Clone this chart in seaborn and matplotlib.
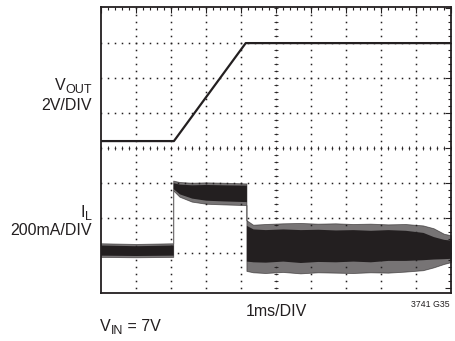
import numpy as np
import pandas as pd
import matplotlib
matplotlib.use('Agg')
import matplotlib.pyplot as plt
import seaborn as sns

# V_OUT trace, in scope divisions (x: 1ms/DIV, y: divisions from bottom)
vout_t = [0.0, 2.09, 4.14, 10.0]
vout_div = [4.21, 4.21, 7.01, 7.01]

# I_L trace, read as envelopes (outer fringe and solid core) of the noisy band
il_t = [0.0, 1.0, 2.07, 2.07, 2.25, 2.6, 3.0, 3.5, 4.16, 4.16, 4.35, 4.7,
        5.2, 5.7, 6.2, 6.7, 7.2, 7.7, 8.2, 8.7, 9.2, 9.5, 9.8, 10.0]
il_hi_outer = [1.29, 1.27, 1.29, 3.08, 3.04, 3.02, 3.03, 3.02, 3.00, 1.95, 1.82, 1.84,
               1.86, 1.87, 1.85, 1.86, 1.84, 1.85, 1.83, 1.84, 1.80, 1.72, 1.56, 1.52]
il_lo_outer = [0.90, 0.89, 0.90, 2.80, 2.62, 2.48, 2.42, 2.40, 2.38, 0.50, 0.46, 0.44,
               0.47, 0.43, 0.46, 0.45, 0.44, 0.46, 0.45, 0.48, 0.52, 0.60, 0.70, 0.75]
il_hi_core = [1.24, 1.22, 1.24, 3.02, 2.98, 2.96, 2.97, 2.96, 2.95, 1.80, 1.70, 1.68,
              1.70, 1.68, 1.69, 1.67, 1.68, 1.66, 1.68, 1.66, 1.60, 1.48, 1.40, 1.38]
il_lo_core = [0.95, 0.94, 0.95, 2.85, 2.70, 2.58, 2.52, 2.50, 2.48, 0.78, 0.76, 0.75,
              0.78, 0.74, 0.77, 0.76, 0.78, 0.76, 0.80, 0.80, 0.82, 0.84, 0.85, 0.86]

TRACE = '#231f20'
W, H = 455, 341

sns.set_style('white')
plt.rcParams['font.family'] = ['Liberation Sans', 'DejaVu Sans']

fig = plt.figure(figsize=(W / 100, H / 100), dpi=100)
ax = fig.add_axes([100.7 / W, 1 - 293.3 / H, (451 - 100.7) / W, (293.3 - 6.7) / H])
ax.set_xlim(0, 10)
ax.set_ylim(-0.14, 8.05)

# scope graticule: dotted lines, small crosses on the centre lines
steps_x = np.arange(0, 10.001, 0.2)
steps_y = np.arange(0, 8.001, 0.2)
for gx in range(1, 10):
    ax.plot(np.full_like(steps_y, gx), steps_y, ls='none', marker='s', ms=1.1,
            mew=0, color=TRACE, zorder=1)
for gy in range(1, 8):
    ax.plot(steps_x, np.full_like(steps_x, gy), ls='none', marker='s', ms=1.1,
            mew=0, color=TRACE, zorder=1)
ax.plot(np.full_like(steps_y, 5), steps_y, ls='none', marker='_', ms=2.6, mew=0.6,
        color=TRACE, zorder=1)
ax.plot(steps_x, np.full_like(steps_x, 4), ls='none', marker='|', ms=2.6, mew=0.6,
        color=TRACE, zorder=1)

# I_L: lighter fringe + solid core
ax.fill_between(il_t, il_lo_outer, il_hi_outer, color=TRACE, alpha=0.62,
                lw=0.6, zorder=2)
ax.fill_between(il_t, il_lo_core, il_hi_core, color=TRACE, lw=0, zorder=3)

# V_OUT
df_vout = pd.DataFrame({'t': vout_t, 'v': vout_div})
sns.lineplot(data=df_vout, x='t', y='v', color=TRACE, lw=1.6, ax=ax, zorder=4)

ax.set_xticks(range(0, 11))
ax.set_xticks(steps_x, minor=True)
ax.set_yticks(range(0, 9))
ax.set_yticks(steps_y, minor=True)
ax.tick_params(which='both', direction='in', top=True, right=True,
               labelbottom=False, labelleft=False, color=TRACE, width=0.8)
ax.tick_params(which='major', length=4)
ax.tick_params(which='minor', length=2.2)
ax.set_xlabel('')
ax.set_ylabel('')
for sp in ax.spines.values():
    sp.set_color(TRACE)
    sp.set_linewidth(1.3)


def px(x, y):
    return x / W, 1 - y / H


FS = 11.5
SUB = 9

fig.canvas.draw()
rend = fig.canvas.get_renderer()


def text_w(t):
    return t.get_window_extent(rend).width


def right_sub_label(x_right, base, main, sub):
    s = fig.text(*px(x_right, base + 3), sub, fontsize=SUB, ha='right',
                 va='baseline', color=TRACE)
    w = text_w(s)
    fig.text(*px(x_right - w, base), main, fontsize=FS, ha='right',
             va='baseline', color=TRACE)


right_sub_label(92, 90, 'V', 'OUT')
fig.text(*px(92, 110), '2V/DIV', fontsize=FS, ha='right', va='baseline', color=TRACE)
right_sub_label(92, 217, 'I', 'L')
fig.text(*px(92, 235), '200mA/DIV', fontsize=FS, ha='right', va='baseline', color=TRACE)

fig.text(*px(276, 316), '1ms/DIV', fontsize=FS, ha='center', va='baseline', color=TRACE)
fig.text(*px(450, 307), '3741 G35', fontsize=6.3, ha='right', va='baseline', color=TRACE)

v = fig.text(*px(100, 331), 'V', fontsize=FS, ha='left', va='baseline', color=TRACE)
x0 = 100 + text_w(v)
s = fig.text(*px(x0, 334), 'IN', fontsize=SUB, ha='left', va='baseline', color=TRACE)
x0 += text_w(s)
fig.text(*px(x0, 331), ' = 7V', fontsize=FS, ha='left', va='baseline', color=TRACE)

fig.savefig('out.png', dpi=100)
